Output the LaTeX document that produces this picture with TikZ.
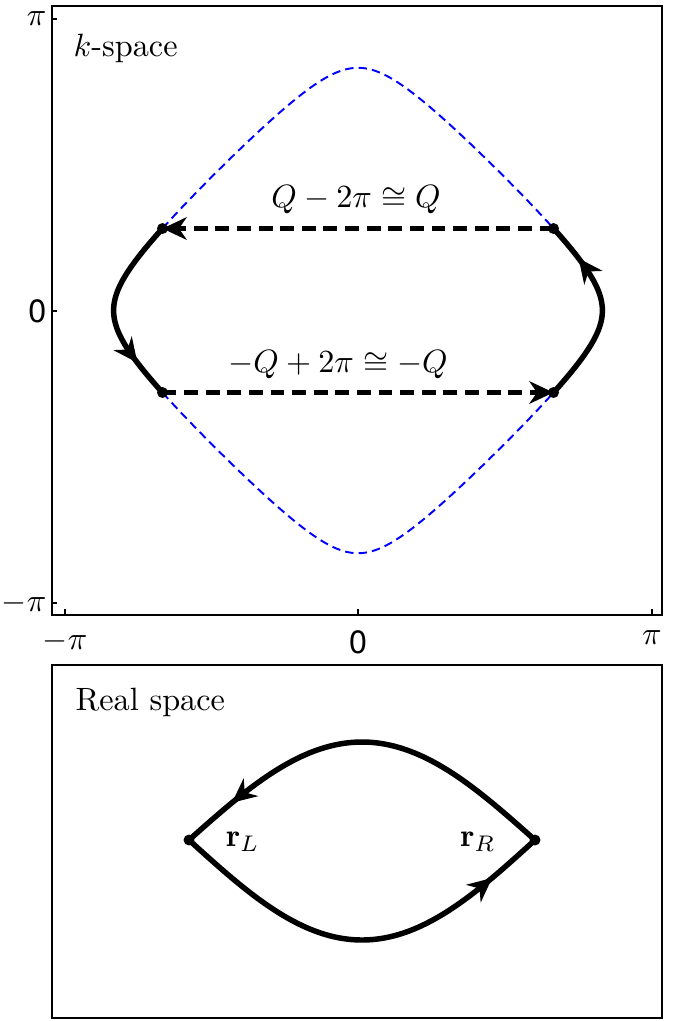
\documentclass[tikz,border=0pt]{standalone}
\usepackage{fontspec}
\newfontfamily\tickfont{TeX Gyre Heros}
\usepackage{tikz}
\usetikzlibrary{arrows.meta,decorations.markings}
\tikzset{
  frame/.style    ={draw,line width=0.6pt},
  tick/.style     ={line width=0.4pt},
  ticklabel/.style={inner sep=0pt,font=\tickfont\fontsize{10}{10}\selectfont},
  fermi/.style    ={blue,line width=0.6pt,dash pattern=on 2.6pt off 1.6pt},
  orbit/.style    ={line width=1.7pt,line join=round},
  nesting/.style  ={line width=1.3pt,dash pattern=on 4.3pt off 2.4pt,-{Stealth[length=7.5pt,width=7pt,inset=2.4pt]}},
  midarrow/.style ={postaction={decorate},decoration={markings,
                    mark=at position #1 with {\arrow{Stealth[length=7.5pt,width=7pt,inset=2.4pt]}}}},
  panellabel/.style={inner sep=0pt,anchor=west},
  dot/.style      ={circle,fill,inner sep=0pt,minimum size=3.4pt}
}

\begin{document}
\begin{tikzpicture}[x=0.31pt,y=-0.31pt]
    \useasboundingbox (0,0) rectangle (677,1021);
    % k-space panel
    \draw[frame] (52,6) rectangle (662,615);
    \foreach \yy/\lab in {19/$\pi$,311/0,603/$-\pi$}{
      \draw[tick] (52,\yy) -- (57,\yy);
      \node[ticklabel,anchor=east] (yl\yy) at (47,\yy) {\lab};
    }
    \foreach \xx/\lab in {65/$-\pi$,358/0,652/$\pi$}{
      \draw[tick] (\xx,615) -- (\xx,609);
      \node[ticklabel,anchor=north] (xl\xx) at (\xx,630) {\lab};
    }
    \node[panellabel] (kspace) at (73,48) {$k$-space};

    \coordinate (tl) at (162.5,228.5);
    \coordinate (tr) at (553.5,228.5);
    \coordinate (bl) at (162.5,392.5);
    \coordinate (br) at (553.5,392.5);

    \draw[fermi] plot[domain=-2.0925:2.0925,samples=80,smooth,variable=\t]
      ({358+293.5*\t/pi},{310.5-291.5*(acos(0.135-cos(\t r))/180)});
    \draw[fermi] plot[domain=-2.0925:2.0925,samples=80,smooth,variable=\t]
      ({358+293.5*\t/pi},{310.5+291.5*(acos(0.135-cos(\t r))/180)});
    \draw[orbit,midarrow=0.8] plot[domain=-0.8837:0.8837,samples=90,variable=\t]
      ({358-293.5*(acos(0.135-cos(\t r))/180)},{310.5+291.5*\t/pi});
    \draw[orbit,midarrow=0.8] plot[domain=-0.8837:0.8837,samples=90,variable=\t]
      ({358+293.5*(acos(0.135-cos(\t r))/180)},{310.5-291.5*\t/pi});

    \draw[nesting] (tr) -- (tl);
    \draw[nesting] (bl) -- (br);
    \foreach \p in {tl,tr,bl,br} \node[dot] (d\p) at (\p) {};
    \node (qtop) at (356,200) {$Q-2\pi\cong Q$};
    \node (qbot) at (338,365) {$-Q+2\pi\cong -Q$};

    % real-space panel
    \draw[frame] (52,665) rectangle (662,1018);
    \node[panellabel] (rspace) at (75,702) {Real space};
    \coordinate (rl) at (189,840);
    \coordinate (rr) at (535,840);
    \draw[orbit,midarrow=0.86] plot[domain=0:180,samples=90,variable=\t]
      ({535-346*(\t/180)},{840-98*sin(\t)});
    \draw[orbit,midarrow=0.86] plot[domain=0:180,samples=90,variable=\t]
      ({189+346*(\t/180)},{840+100*sin(\t)});
    \node[dot] (drl) at (rl) {};
    \node[dot] (drr) at (rr) {};
    \node (labL) at (243,842) {$\mathbf{r}_L$};
    \node (labR) at (478,842) {$\mathbf{r}_R$};
\end{tikzpicture}
\end{document}
